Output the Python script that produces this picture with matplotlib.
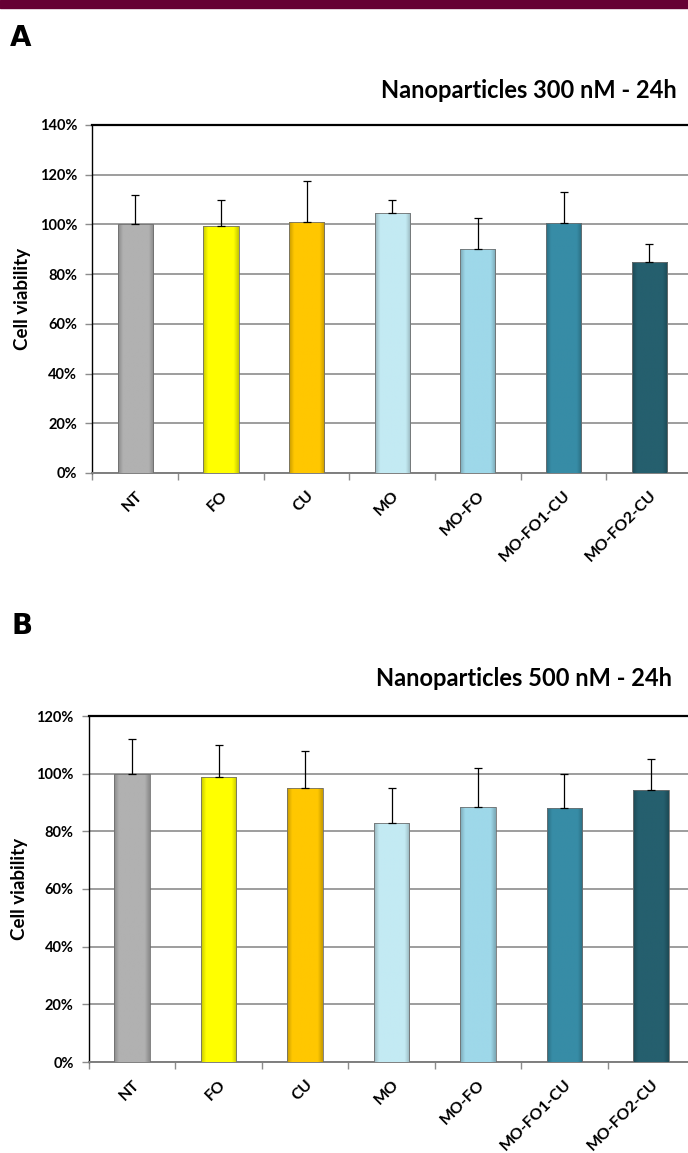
import matplotlib
matplotlib.use("Agg")
import matplotlib.pyplot as plt
from matplotlib.colors import to_rgb
from matplotlib.patches import Rectangle
from matplotlib.ticker import FixedLocator, PercentFormatter
import numpy as np

plt.rcParams["font.family"] = ["Lato", "DejaVu Sans"]
plt.rcParams["font.weight"] = "bold"

categories = ["NT", "FO", "CU", "MO", "MO-FO", "MO-FO1-CU", "MO-FO2-CU"]
bar_colors = ["#B1B1B1", "#FFFF00", "#FFC700", "#C3EAF3", "#9ED8E9", "#378CA6", "#255F6E"]

# panel A: 300 nM, 24h
viab_300 = [100, 99.5, 101, 104.5, 90, 100.5, 85]
sd_300 = [12, 10.5, 16.5, 5.5, 12.5, 12.5, 7]

# panel B: 500 nM, 24h
viab_500 = [100, 99, 95, 83, 88.5, 88, 94.5]
sd_500 = [12, 11, 13, 12, 13.5, 12, 10.5]

W, H = 688, 1153
fig = plt.figure(figsize=(W / 100, H / 100), dpi=100)

# maroon strip along the top edge
fig.patches.append(Rectangle((0, 1 - 8 / H), 1, 8 / H, transform=fig.transFigure,
                             color="#660033", zorder=0))


def shade_bar(ax, patch, color):
    # soft darker sides, like the bevelled Excel bars
    base = np.array(to_rgb(color))
    t = np.linspace(0, 1, 64)
    f = 1 - 0.22 * np.clip(1 - np.minimum(t, 1 - t) / 0.14, 0, 1)
    img = (base[None, :] * f[:, None])[None, :, :]
    x0, y0 = patch.get_x(), patch.get_y()
    w, h = patch.get_width(), patch.get_height()
    im = ax.imshow(img, extent=[x0, x0 + w, y0, y0 + h], aspect="auto",
                   interpolation="bilinear", zorder=3)
    im.set_clip_path(patch)
    patch.set_facecolor("none")


def draw_panel(rect, values, sds, ymax, title, title_xy, letter, letter_xy):
    ax = fig.add_axes(rect)
    x = np.arange(len(categories))
    bars = ax.bar(x, values, width=0.41, color=bar_colors, edgecolor="#6F6F6F",
                  linewidth=0.6, zorder=3.5)
    for patch, c in zip(bars.patches, bar_colors):
        shade_bar(ax, patch, c)
    ax.errorbar(x, values, yerr=[np.zeros(len(sds)), sds], fmt="none",
                ecolor="black", elinewidth=0.9, capsize=2.6, capthick=0.9, zorder=4)

    ax.set_xlim(-0.5, len(categories) - 0.5)
    ax.set_ylim(0, ymax)
    ax.yaxis.set_major_locator(FixedLocator(np.arange(0, ymax + 1, 20)))
    ax.yaxis.set_major_formatter(PercentFormatter(decimals=0))
    ax.grid(axis="y", color="#8C8C8C", linewidth=1.2, zorder=1)

    ax.set_xticks(x)
    ax.set_xticklabels(categories, rotation=45, ha="right", rotation_mode="anchor",
                       fontsize=11.5, fontweight="bold")
    ax.set_xticks(np.arange(-0.5, len(categories) + 0.5, 1), minor=True)
    ax.tick_params(axis="x", which="major", length=0, pad=11)
    ax.tick_params(axis="x", which="minor", length=5, color="#8C8C8C", width=1)
    ax.tick_params(axis="y", length=5, color="#8C8C8C", width=1, pad=6, labelsize=10.5)
    for lab in ax.get_yticklabels():
        lab.set_fontweight("bold")

    ax.spines["top"].set_color("black")
    ax.spines["top"].set_linewidth(1.6)
    ax.spines["left"].set_color("black")
    ax.spines["left"].set_linewidth(1.0)
    ax.spines["bottom"].set_color("#7F7F7F")
    ax.spines["bottom"].set_linewidth(1.4)
    ax.spines["right"].set_visible(False)
    ax.set_ylabel("Cell viability", fontsize=13.5, fontweight="bold", labelpad=6)

    fig.text(title_xy[0] / W, 1 - title_xy[1] / H, title, ha="right", va="center",
             fontsize=17, fontweight="bold")
    fig.text(letter_xy[0] / W, 1 - letter_xy[1] / H, letter, ha="left", va="center",
             fontsize=20, fontweight="bold", family=["Liberation Sans Narrow", "DejaVu Sans"])
    return ax


draw_panel([92.5 / W, 1 - 473 / H, 599.5 / W, 348 / H], viab_300, sd_300, 140,
           "Nanoparticles 300 nM - 24h", (677, 90), "A", (10, 38))
draw_panel([89 / W, 1 - 1062 / H, 605 / W, 346 / H], viab_500, sd_500, 120,
           "Nanoparticles 500 nM - 24h", (672, 679), "B", (12, 626))

fig.savefig("out.png", dpi=100)
